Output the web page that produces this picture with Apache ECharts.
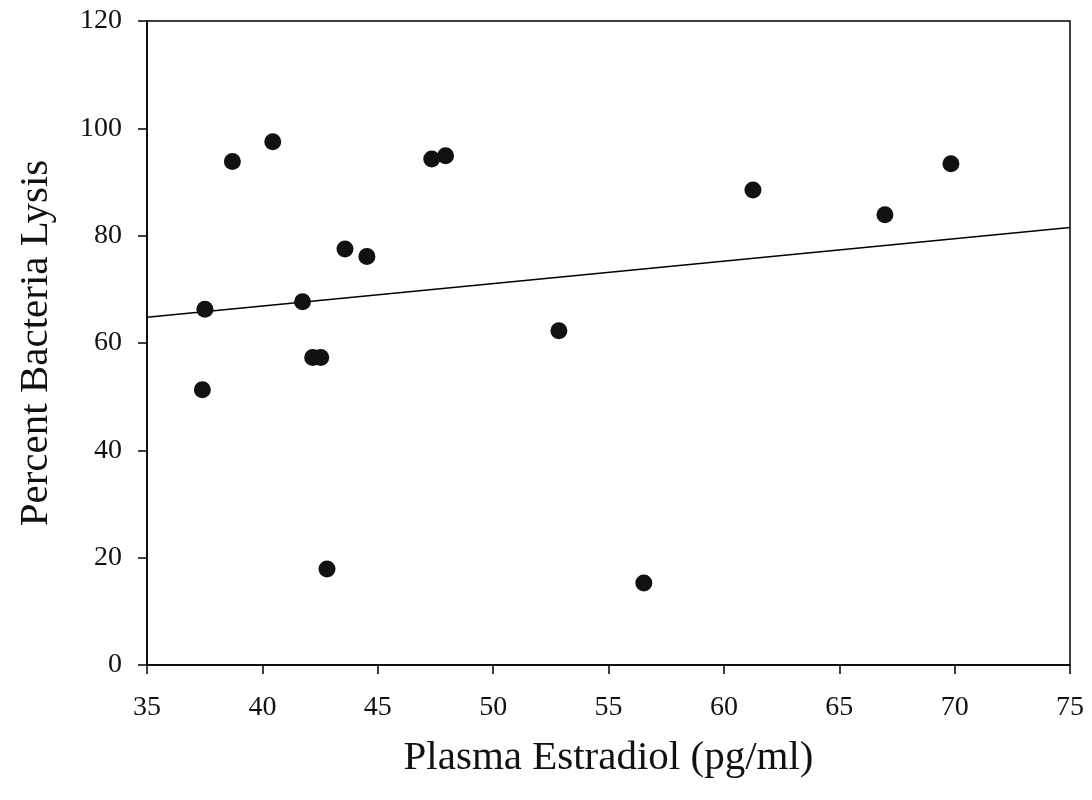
<!DOCTYPE html>
<html>
<head>
<meta charset="utf-8">
<script src="https://cdn.jsdelivr.net/npm/echarts@6/dist/echarts.min.js"></script>
<style>
  html, body { margin: 0; padding: 0; background: #fff; }
  #chart { width: 1092px; height: 800px; }
</style>
</head>
<body>
<div id="chart"></div>
<script>
// estradiol (pg/ml) vs percent lysis
const estradiol = [37.40, 37.51, 38.70, 40.45, 41.74, 42.18, 42.53, 42.80, 43.58, 44.53, 47.34, 47.94, 52.85, 56.53, 61.26, 66.98, 69.84];
const lysis     = [51.3, 66.3, 93.8, 97.5, 67.7, 57.3, 57.3, 17.9, 77.5, 76.1, 94.3, 94.9, 62.3, 15.3, 88.5, 83.9, 93.4];

// regression line ends (across full x range)
const fitX = [35, 75];
const fitY = [64.8, 81.5];

const font = '"Liberation Serif", "Times New Roman", serif';

let chart = echarts.init(document.getElementById('chart'));

chart.setOption({
    animation: false,
    grid: {
        left: 147, top: 21, right: 22, bottom: 135,
        show: true, borderColor: '#000', borderWidth: 1.5,
        backgroundColor: 'transparent'
    },
    xAxis: {
        type: 'value',
        min: 35, max: 75, interval: 5,
        name: 'Plasma Estradiol (pg/ml)',
        nameLocation: 'middle',
        nameGap: 73,
        nameTextStyle: {fontFamily: font, fontSize: 41, color: '#111'},
        axisLine: {lineStyle: {color: '#000', width: 1.5}},
        axisTick: {show: true, inside: false, length: 9, lineStyle: {color: '#000', width: 1.5}},
        axisLabel: {fontFamily: font, fontSize: 28, color: '#111', margin: 29},
        splitLine: {show: false}
    },
    yAxis: {
        type: 'value',
        min: 0, max: 120, interval: 20,
        name: 'Percent Bacteria Lysis',
        nameLocation: 'middle',
        nameGap: 90,
        nameTextStyle: {fontFamily: font, fontSize: 41, color: '#111'},
        axisLine: {lineStyle: {color: '#000', width: 1.5}},
        axisTick: {show: true, inside: false, length: 9, lineStyle: {color: '#000', width: 1.5}},
        axisLabel: {fontFamily: font, fontSize: 28, color: '#111', margin: 25},
        splitLine: {show: false}
    },
    series: [
        {
            type: 'line',
            data: fitX.map((x, i) => [x, fitY[i]]),
            symbol: 'none',
            lineStyle: {color: '#000', width: 1.5},
            z: 1
        },
        {
            type: 'scatter',
            data: estradiol.map((x, i) => [x, lysis[i]]),
            symbol: 'circle',
            symbolSize: 17,
            itemStyle: {color: '#111', opacity: 1},
            z: 2
        }
    ]
});
</script>
</body>
</html>
